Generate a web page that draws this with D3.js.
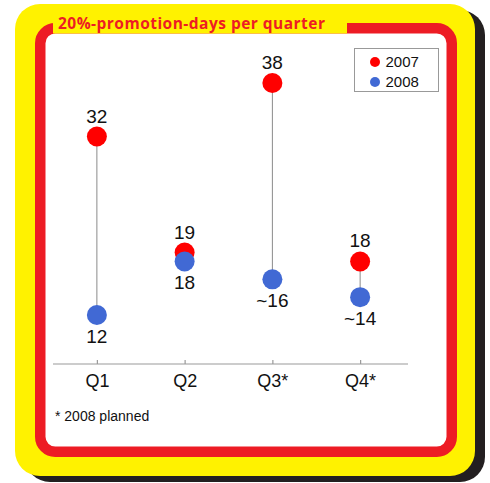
<!DOCTYPE html>
<html>
<head>
<meta charset="utf-8">
<script src="https://cdn.jsdelivr.net/npm/d3@7"></script>
<style>
  html, body { margin: 0; padding: 0; background: #fff; }
  svg { display: block; }
</style>
</head>
<body>
<script>
const quarters = ["Q1", "Q2", "Q3*", "Q4*"];
const values2007 = [32, 19, 38, 18];
const values2008 = [12, 18, 16, 14];
const labels2007 = ["32", "19", "38", "18"];
const labels2008 = ["12", "18", "~16", "~14"];
const seriesNames = ["2007", "2008"];
const title = "20%-promotion-days per quarter";
const footnote = "* 2008 planned";

const W = 490, H = 483;
const svg = d3.select("body").append("svg").attr("width", W).attr("height", H);

// frame: shadow, yellow, red border
svg.append("rect").attr("x", 25).attr("y", 10).attr("width", 460).attr("height", 472)
  .attr("rx", 25).attr("fill", "#231f20");
svg.append("rect").attr("x", 15).attr("y", 4).attr("width", 460).attr("height", 472)
  .attr("rx", 25).attr("fill", "#fff200");
svg.append("rect").attr("x", 40.25).attr("y", 28.25).attr("width", 411.5).attr("height", 423.5)
  .attr("rx", 15).attr("fill", "#fff").attr("stroke", "#ed1c24").attr("stroke-width", 10.5);

// title tab
svg.append("rect").attr("x", 53).attr("y", 10).attr("width", 294).attr("height", 23.5).attr("fill", "#fff200");
svg.append("text").attr("x", 58).attr("y", 29)
  .attr("font-family", "'Open Sans', sans-serif").attr("font-weight", "bold").attr("font-size", 15.5)
  .attr("textLength", 267).attr("lengthAdjust", "spacing")
  .attr("fill", "#ed1c24").text(title);

// scales
const x = d3.scalePoint().domain(quarters).range([53, 404]).padding(0.5);
const y = d3.scaleLinear().domain([12, 38]).range([315, 83]);

const font = "'Liberation Sans', Arial, sans-serif";

// axis
const axisY = 364;
svg.append("line").attr("x1", 53).attr("x2", 408).attr("y1", axisY).attr("y2", axisY)
  .attr("stroke", "#9a9a9a").attr("stroke-width", 1.2);
const axis = d3.axisBottom(x).tickSize(-4).tickPadding(10);
const ag = svg.append("g").attr("transform", `translate(0,${axisY})`).call(axis);
ag.select(".domain").remove();
ag.selectAll(".tick line").attr("stroke", "#9a9a9a").attr("stroke-width", 1.2);
ag.selectAll(".tick text").attr("font-family", font).attr("font-size", 18).attr("fill", "#111")
  .attr("y", 23).attr("dy", null);

const data = quarters.map((q, i) => ({ q, a: values2007[i], b: values2008[i], la: labels2007[i], lb: labels2008[i] }));

// connectors
svg.append("g").selectAll("line").data(data).join("line")
  .attr("x1", d => x(d.q)).attr("x2", d => x(d.q))
  .attr("y1", d => y(d.a)).attr("y2", d => y(d.b))
  .attr("stroke", "#8a8a8a").attr("stroke-width", 1);

// dots
svg.append("g").selectAll("circle").data(data).join("circle")
  .attr("cx", d => x(d.q)).attr("cy", d => y(d.a)).attr("r", 10).attr("fill", "#ff0000");
svg.append("g").selectAll("circle").data(data).join("circle")
  .attr("cx", d => x(d.q)).attr("cy", d => y(d.b)).attr("r", 10).attr("fill", "#4169d4");

// value labels
svg.append("g").selectAll("text").data(data).join("text")
  .attr("x", d => x(d.q)).attr("y", d => y(d.a) - 14).attr("text-anchor", "middle")
  .attr("font-family", font).attr("font-size", 19).attr("fill", "#111").text(d => d.la);
svg.append("g").selectAll("text").data(data).join("text")
  .attr("x", d => x(d.q)).attr("y", d => y(d.b) + 28).attr("text-anchor", "middle")
  .attr("font-family", font).attr("font-size", 19).attr("fill", "#111").text(d => d.lb);

// legend
const lg = svg.append("g");
lg.append("rect").attr("x", 354.5).attr("y", 48.5).attr("width", 84).attr("height", 43)
  .attr("fill", "#fff").attr("stroke", "#999").attr("stroke-width", 1);
const legColors = ["#ff0000", "#4169d4"];
seriesNames.forEach((s, i) => {
  lg.append("circle").attr("cx", 375).attr("cy", 62 + i * 20).attr("r", 5).attr("fill", legColors[i]);
  lg.append("text").attr("x", 385.5).attr("y", 67 + i * 19.5).attr("font-family", font)
    .attr("font-size", 15).attr("fill", "#111").text(s);
});

// footnote
svg.append("text").attr("x", 55).attr("y", 421).attr("font-family", font).attr("font-size", 14)
  .attr("fill", "#111").text(footnote);
</script>
</body>
</html>
